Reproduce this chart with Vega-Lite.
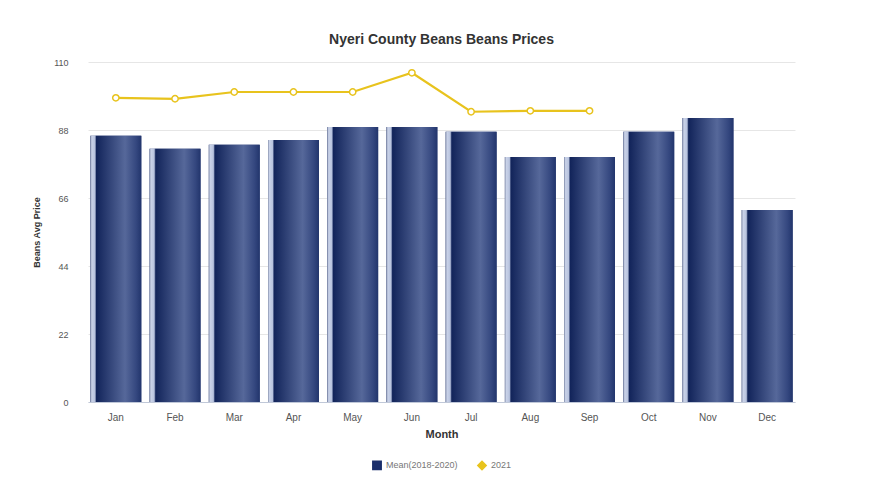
{
  "$schema": "https://vega.github.io/schema/vega-lite/v6.json",
  "autosize": {"type": "none"},
  "width": 707,
  "height": 340,
  "padding": {"left": 88, "top": 62, "right": 80, "bottom": 99},
  "background": "white",
  "title": {
    "text": "Nyeri County Beans Beans Prices",
    "fontSize": 14,
    "fontWeight": "bold",
    "color": "#333333",
    "font": "Liberation Sans",
    "anchor": "middle",
    "offset": 11
  },
  "config": {
    "view": {"stroke": null},
    "font": "Liberation Sans"
  },
  "datasets": {
    "mean": [
      {"Month": "Jan", "price": 86.1, "series": "Mean(2018-2020)"},
      {"Month": "Feb", "price": 81.9, "series": "Mean(2018-2020)"},
      {"Month": "Mar", "price": 83.2, "series": "Mean(2018-2020)"},
      {"Month": "Apr", "price": 84.8, "series": "Mean(2018-2020)"},
      {"Month": "May", "price": 89.0, "series": "Mean(2018-2020)"},
      {"Month": "Jun", "price": 89.0, "series": "Mean(2018-2020)"},
      {"Month": "Jul", "price": 87.4, "series": "Mean(2018-2020)"},
      {"Month": "Aug", "price": 79.3, "series": "Mean(2018-2020)"},
      {"Month": "Sep", "price": 79.3, "series": "Mean(2018-2020)"},
      {"Month": "Oct", "price": 87.4, "series": "Mean(2018-2020)"},
      {"Month": "Nov", "price": 91.9, "series": "Mean(2018-2020)"},
      {"Month": "Dec", "price": 62.1, "series": "Mean(2018-2020)"}
    ],
    "y2021": [
      {"Month": "Jan", "price": 98.4, "series": "2021"},
      {"Month": "Feb", "price": 98.1, "series": "2021"},
      {"Month": "Mar", "price": 100.3, "series": "2021"},
      {"Month": "Apr", "price": 100.3, "series": "2021"},
      {"Month": "May", "price": 100.3, "series": "2021"},
      {"Month": "Jun", "price": 106.5, "series": "2021"},
      {"Month": "Jul", "price": 93.9, "series": "2021"},
      {"Month": "Aug", "price": 94.2, "series": "2021"},
      {"Month": "Sep", "price": 94.2, "series": "2021"}
    ]
  },
  "encoding": {
    "x": {
      "field": "Month",
      "type": "ordinal",
      "sort": ["Jan","Feb","Mar","Apr","May","Jun","Jul","Aug","Sep","Oct","Nov","Dec"],
      "scale": {"paddingInner": 0.14, "paddingOuter": 0.04},
      "axis": {
        "title": "Month",
        "titleFontSize": 11,
        "titleFontWeight": "bold",
        "titleColor": "#333333",
        "titlePadding": 6,
        "labelAngle": 0,
        "labelFontSize": 10,
        "labelColor": "#555555",
        "labelPadding": 10,
        "ticks": false,
        "domainColor": "#c0c8d8",
        "grid": false
      }
    },
    "y": {
      "field": "price",
      "type": "quantitative",
      "scale": {"domain": [0, 110], "nice": false},
      "axis": {
        "title": "Beans Avg Price",
        "titleFontSize": 9,
        "titleFontWeight": "bold",
        "titleColor": "#333333",
        "titlePadding": 12,
        "values": [0, 22, 44, 66, 88, 110],
        "labelFontSize": 9,
        "labelColor": "#555555",
        "labelPadding": 20,
        "ticks": false,
        "domain": false,
        "gridColor": "#e6e6e6"
      }
    }
  },
  "layer": [
    {
      "data": {"name": "mean"},
      "mark": {"type": "bar"},
      "encoding": {
        "color": {
          "field": "series",
          "type": "nominal",
          "scale": {"domain": ["Mean(2018-2020)", "2021"], "range": ["#1b2f6b", "#e8c31d"]},
          "legend": {
            "orient": "none",
            "legendX": 284,
            "legendY": 398,
            "direction": "horizontal",
            "title": null,
            "labelFontSize": 9,
            "labelColor": "#777777",
            "symbolSize": 70,
            "columnPadding": 16,
            "encode": {
              "symbols": {
                "enter": {
                  "fill": {"signal": "datum.value === '2021' ? '#ffffff' : '#1b2f6b'"}
                },
                "update": {
                  "shape": {"signal": "datum.value === '2021' ? 'diamond' : 'square'"},
                  "fill": {"signal": "datum.value === '2021' ? '#ffffff' : '#1b2f6b'"},
                  "stroke": {"signal": "datum.value === '2021' ? '#e8c31d' : '#1b2f6b'"},
                  "strokeWidth": {"value": 1.5}
                }
              }
            }
          }
        }
      }
    },
    {
      "data": {"name": "mean"},
      "mark": {
        "type": "bar",
        "fill": {
          "gradient": "linear",
          "x1": 0, "x2": 1, "y1": 0, "y2": 0,
          "stops": [
            {"offset": 0, "color": "#8a94b0"},
            {"offset": 0.03, "color": "#c9d2e8"},
            {"offset": 0.09, "color": "#b8c3de"},
            {"offset": 0.12, "color": "#12245a"},
            {"offset": 0.68, "color": "#56689a"},
            {"offset": 0.9, "color": "#34477f"},
            {"offset": 1, "color": "#22356c"}
          ]
        }
      },
      "encoding": {}
    },
    {
      "data": {"name": "y2021"},
      "mark": {
        "type": "line",
        "strokeWidth": 2.2,
        "point": {"filled": false, "fill": "white", "size": 40, "strokeWidth": 1.5}
      },
      "encoding": {
        "color": {"field": "series", "type": "nominal"}
      }
    }
  ]
}
